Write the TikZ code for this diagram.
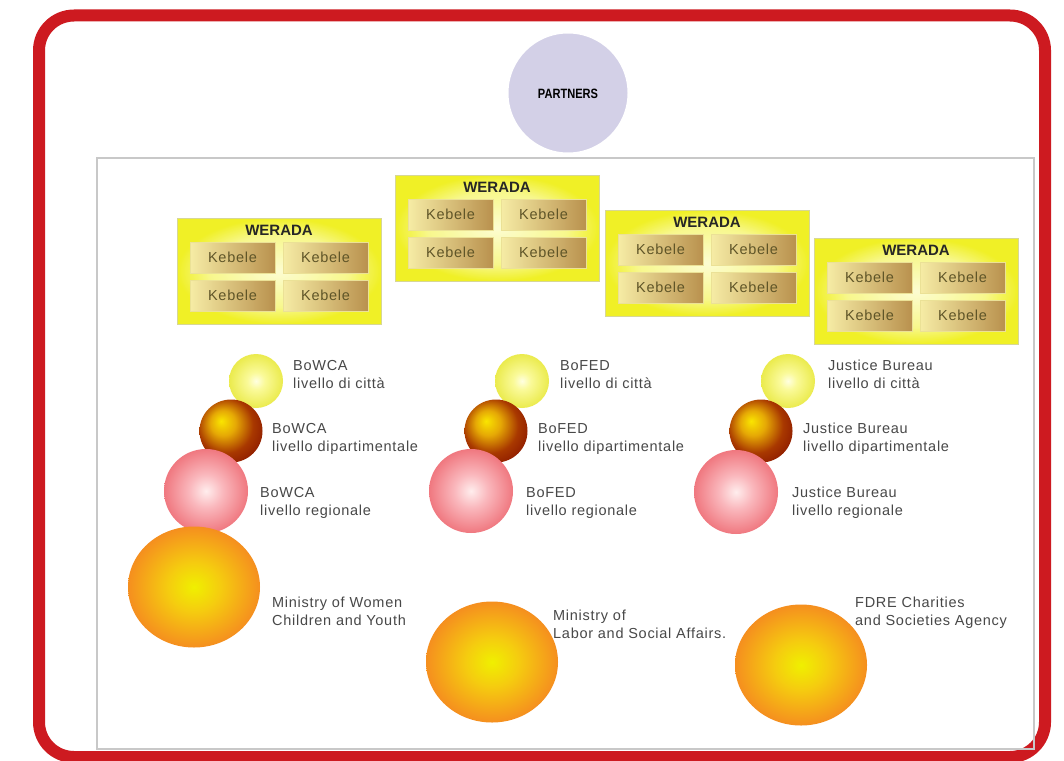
\documentclass[tikz,border=0pt]{standalone}
\usepackage{fontspec}
\setmainfont{Liberation Sans}
\newfontfamily\lblfont{Liberation Sans}[LetterSpace=5.0]
\usetikzlibrary{shapes.geometric}
\definecolor{framered}{RGB}{205,26,32}
\definecolor{framegray}{RGB}{200,200,200}
\definecolor{partnerfill}{RGB}{211,208,231}
\definecolor{labelgray}{RGB}{72,72,72}
\definecolor{kebtext}{RGB}{95,85,40}
\definecolor{kebleft}{RGB}{246,236,165}
\definecolor{kebright}{RGB}{185,145,78}
\definecolor{kebdraw}{RGB}{235,225,150}
\definecolor{boxdraw}{RGB}{215,215,150}
\pgfdeclareradialshading{yball}{\pgfpointorigin}{rgb(0bp)=(1,1,0.88);rgb(8bp)=(0.98,0.98,0.6);rgb(25bp)=(0.92,0.92,0.3);rgb(50bp)=(0.92,0.92,0.3)}
\pgfdeclareradialshading{dball}{\pgfpoint{-8bp}{8bp}}{rgb(0bp)=(0.98,0.9,0);rgb(10bp)=(0.9,0.66,0.02);rgb(22bp)=(0.66,0.22,0);rgb(32bp)=(0.55,0.1,0);rgb(50bp)=(0.55,0.1,0)}
\pgfdeclareradialshading{pball}{\pgfpointorigin}{rgb(0bp)=(1,0.93,0.93);rgb(10bp)=(0.98,0.72,0.74);rgb(25bp)=(0.94,0.47,0.5);rgb(50bp)=(0.94,0.47,0.5)}
\pgfdeclareradialshading{oball}{\pgfpointorigin}{rgb(0bp)=(0.94,0.94,0);rgb(10bp)=(0.96,0.8,0.06);rgb(25bp)=(0.96,0.56,0.12);rgb(50bp)=(0.96,0.56,0.12)}
\pgfdeclareradialshading{wboxsh}{\pgfpointorigin}{rgb(0bp)=(0.99,0.99,0.82);rgb(17bp)=(0.97,0.97,0.55);rgb(25bp)=(0.94,0.94,0.15);rgb(50bp)=(0.94,0.94,0.15)}
\tikzset{
  sph/.style={circle, inner sep=0pt, draw=none},
  bigsph/.style={ellipse, inner sep=0pt, draw=none, shading=oball, minimum width=132pt, minimum height=121pt},
  lbl/.style={anchor=north west, inner sep=0pt, align=left, text=labelgray, font=\lblfont\fontsize{14.5}{18}\selectfont},
  weradabg/.style={rectangle, draw=boxdraw, line width=0.8pt, shading=wboxsh, minimum width=204pt, minimum height=106pt, inner sep=0pt},
  weradatitle/.style={inner sep=0pt, font=\bfseries\fontsize{15}{18}\selectfont, text=black!85},
  kebcell/.style={rectangle, draw=kebdraw, line width=0.6pt, left color=kebleft, right color=kebright, minimum width=85pt, minimum height=31pt, inner sep=0pt, text=kebtext, font=\lblfont\fontsize{14.5}{18}\selectfont}
}
\newcommand\weradabox[3]{%
  \begin{scope}[shift={(#2,#3)}]
    \node[weradabg] (#1) at (102,53) {};
    \node[weradatitle] (#1-t) at (102,12) {WERADA};
    \node[kebcell] (#1-k1) at (55.5,39.5) {Kebele};
    \node[kebcell] (#1-k2) at (148.5,39.5) {Kebele};
    \node[kebcell] (#1-k3) at (55.5,77.5) {Kebele};
    \node[kebcell] (#1-k4) at (148.5,77.5) {Kebele};
  \end{scope}}
\begin{document}
\begin{tikzpicture}[x=1pt,y=-1pt]
\useasboundingbox (0,0) rectangle (1064,760);
\fill[white] (0,0) rectangle (1064,760);
% outer red frame
\draw[framered, line width=12pt, rounded corners=35pt] (39,15.5) rectangle (1045,757);
% inner gray frame
\draw[framegray, line width=1.5pt] (97,158) rectangle (1034,749);
% partners circle
\node[circle, fill=partnerfill, draw=white, line width=3pt, minimum size=122pt, inner sep=0pt] (partners) at (568,93) {};
\node[inner sep=0pt, font=\bfseries\fontsize{13.5}{16}\selectfont] (partnerstxt) at (568,94) {\scalebox{0.82}[1]{PARTNERS}};
% WERADA boxes
\weradabox{w1}{177}{218}
\weradabox{w2}{395}{175}
\weradabox{w3}{605}{210}
\weradabox{w4}{814}{238}
% column 1
\node[sph, shading=yball, minimum size=54pt] (c1y) at (256,381) {};
\node[sph, shading=dball, minimum size=63pt] (c1d) at (231,431) {};
\node[sph, shading=pball, minimum size=84pt] (c1p) at (206,491) {};
\node[bigsph] (c1o) at (194,587) {};
\node[lbl] (t1y) at (293,360) {BoWCA\\livello di città};
\node[lbl] (t1d) at (272,423) {BoWCA\\livello dipartimentale};
\node[lbl] (t1p) at (260,487) {BoWCA\\livello regionale};
\node[lbl] (t1o) at (272,597) {Ministry of Women\\Children and Youth};
% column 2
\node[sph, shading=yball, minimum size=54pt] (c2y) at (522,381) {};
\node[sph, shading=dball, minimum size=63pt] (c2d) at (496,431) {};
\node[sph, shading=pball, minimum size=84pt] (c2p) at (471,491) {};
\node[bigsph] (c2o) at (492,662) {};
\node[lbl] (t2y) at (560,360) {BoFED\\livello di città};
\node[lbl] (t2d) at (538,423) {BoFED\\livello dipartimentale};
\node[lbl] (t2p) at (526,487) {BoFED\\livello regionale};
\node[lbl] (t2o) at (553,610) {Ministry of\\Labor and Social Affairs.};
% column 3
\node[sph, shading=yball, minimum size=54pt] (c3y) at (788,381) {};
\node[sph, shading=dball, minimum size=63pt] (c3d) at (761,431) {};
\node[sph, shading=pball, minimum size=84pt] (c3p) at (736,492) {};
\node[bigsph] (c3o) at (801,665) {};
\node[lbl] (t3y) at (828,360) {Justice Bureau\\livello di città};
\node[lbl] (t3d) at (803,423) {Justice Bureau\\livello dipartimentale};
\node[lbl] (t3p) at (792,487) {Justice Bureau\\livello regionale};
\node[lbl] (t3o) at (855,597) {FDRE Charities\\and Societies Agency};
\end{tikzpicture}
\end{document}
